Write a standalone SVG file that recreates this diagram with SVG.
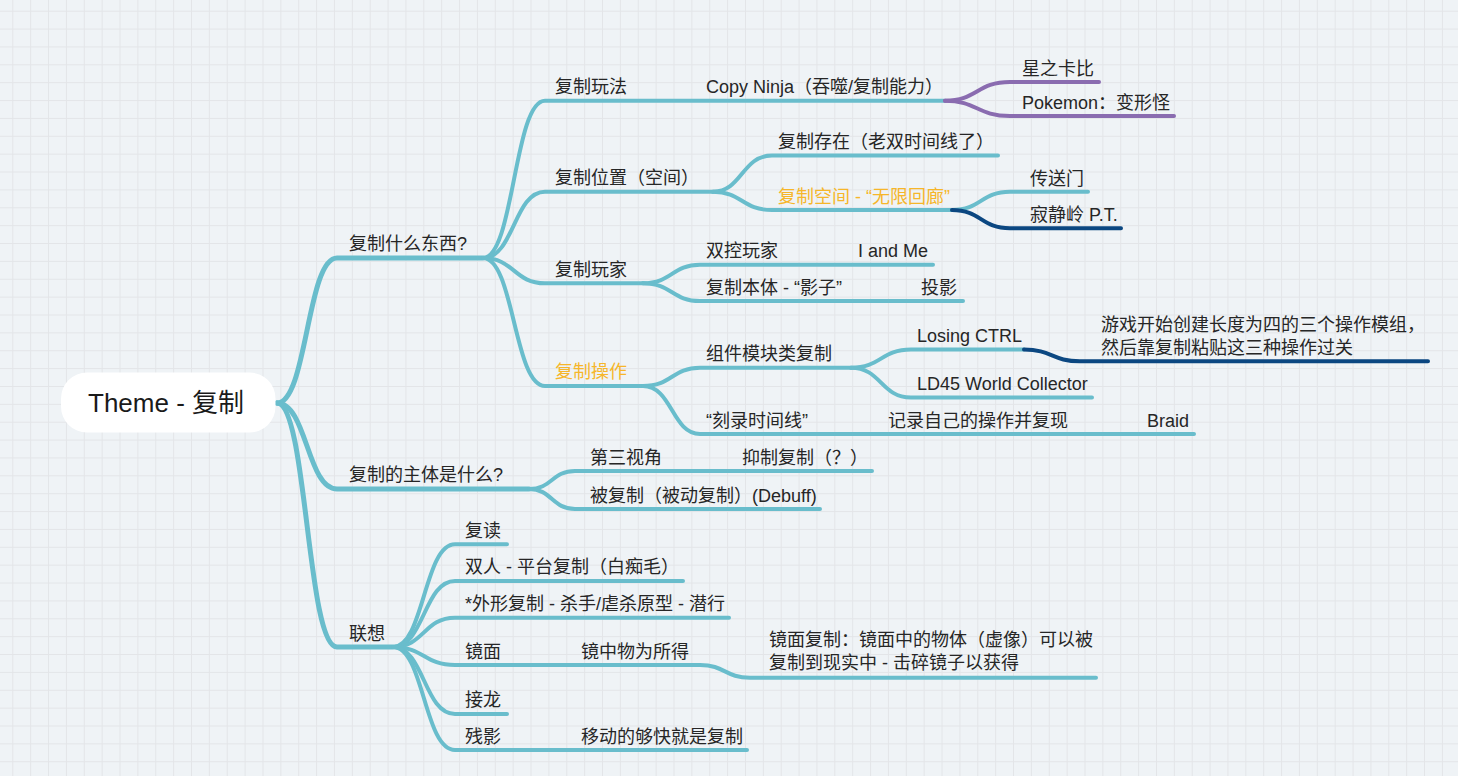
<svg xmlns="http://www.w3.org/2000/svg" width="1458" height="776" viewBox="0 0 1458 776">
  <defs>
    <pattern id="grid" x="12.3" y="10.7" width="17.87" height="17.87" patternUnits="userSpaceOnUse">
      <path d="M0 0.5 H17.87 M0.5 0 V17.87" fill="none" stroke="#e3e5e8" stroke-width="1"/>
    </pattern>
    <style>
      .bg { fill: #eff3f6; }
      .br { fill: none; stroke-linecap: round; stroke-linejoin: round; }
      .t1 { stroke: #69bdcc; stroke-width: 5; }
      .t { stroke: #69bdcc; stroke-width: 4; }
      .pu { stroke: #8a6cb0; stroke-width: 4; }
      .db { stroke: #0b4781; stroke-width: 4; }
      text { font-family: "Liberation Sans", "Noto Sans CJK SC", sans-serif; font-size: 18px; fill: #262626; }
      .root { font-size: 26px; fill: #1a1a1a; }
      .hl { fill: #f6b62a; }
    </style>
  </defs>

  <rect class="bg" width="1458" height="776"/>
  <rect width="1458" height="776" fill="url(#grid)"/>

  <!-- branches -->
  <g id="connectors" class="br">
    <!-- from the central topic -->
    <path class="t1" d="M277 403 C307 403 307 258 337 258 L483 258"/>
    <path class="t1" d="M277 403 C307 403 307 489 337 489 L529 489"/>
    <path class="t1" d="M277 403 C307 403 307 647 337 647 L393 647"/>

    <!-- 复制什么东西? -->
    <path class="t" d="M483 258 C514 258 514 100.7 545 100.7 L945 100.7"/>
    <path class="t" d="M483 258 C514 258 514 191.7 545 191.7 L713 191.7"/>
    <path class="t" d="M483 258 C514 258 514 283.3 545 283.3 L643 283.3"/>
    <path class="t" d="M483 258 C514 258 514 386 545 386 L643 386"/>

    <path class="pu" d="M945 100.7 C977 100.7 977 82 1010 82 L1099 82"/>
    <path class="pu" d="M945 100.7 C977 100.7 977 116 1010 116 L1174 116"/>

    <path class="t" d="M713 191.7 C742 191.7 742 155.5 772 155.5 L998 155.5"/>
    <path class="t" d="M713 191.7 C742 191.7 742 210 772 210 L952 210"/>
    <path class="t" d="M952 210 C981 210 981 191.7 1010 191.7 L1088 191.7"/>
    <path class="db" d="M952 210 C981 210 981 228.3 1010 228.3 L1121 228.3"/>

    <path class="t" d="M643 283.3 C672 283.3 672 264.7 700 264.7 L933 264.7"/>
    <path class="t" d="M643 283.3 C672 283.3 672 301 700 301 L963 301"/>

    <path class="t" d="M643 386 C672 386 672 367.7 700 367.7 L851 367.7"/>
    <path class="t" d="M643 386 C672 386 672 434 700 434 L1194 434"/>
    <path class="t" d="M851 367.7 C881 367.7 881 349.5 911 349.5 L1024 349.5"/>
    <path class="t" d="M851 367.7 C881 367.7 881 397.5 911 397.5 L1092 397.5"/>
    <path class="db" d="M1024 349.5 C1052 349.5 1052 361.3 1080 361.3 L1428 361.3"/>

    <!-- 复制的主体是什么? -->
    <path class="t" d="M529 489 C552 489 552 471 575 471 L872 471"/>
    <path class="t" d="M529 489 C552 489 552 509 575 509 L820 509"/>

    <!-- 联想 -->
    <path class="t" d="M393 647 C424 647 424 544.3 455 544.3 L507 544.3"/>
    <path class="t" d="M393 647 C424 647 424 581 455 581 L683 581"/>
    <path class="t" d="M393 647 C424 647 424 617.7 455 617.7 L729 617.7"/>
    <path class="t" d="M393 647 C424 647 424 665 455 665 L700 665 C725 665 725 677.7 750 677.7 L1096 677.7"/>
    <path class="t" d="M393 647 C424 647 424 714 455 714 L507 714"/>
    <path class="t" d="M393 647 C424 647 424 750 455 750 L747 750"/>
  </g>

  <!-- central topic -->
  <g id="root">
    <rect x="61" y="372.5" width="214.5" height="60" rx="26" fill="#ffffff"/>
    <text class="root" x="88" y="412">Theme - 复制</text>
  </g>

  <!-- topics -->
  <g id="n-what"><text x="349" y="250">复制什么东西?</text></g>
  <g id="n-play"><text x="555" y="93">复制玩法</text></g>
  <g id="n-copyninja"><text x="706" y="93">Copy Ninja（吞噬/复制能力）</text></g>
  <g id="n-kirby"><text x="1022" y="75">星之卡比</text></g>
  <g id="n-pokemon"><text x="1022" y="109">Pokemon：变形怪</text></g>

  <g id="n-pos"><text x="555" y="184">复制位置（空间）</text></g>
  <g id="n-exist"><text x="778" y="148">复制存在（老双时间线了）</text></g>
  <g id="n-space"><text class="hl" x="778" y="203">复制空间 - “无限回廊”</text></g>
  <g id="n-portal"><text x="1030" y="185">传送门</text></g>
  <g id="n-pt"><text x="1030" y="221">寂静岭 P.T.</text></g>

  <g id="n-player"><text x="555" y="276">复制玩家</text></g>
  <g id="n-dual"><text x="706" y="257">双控玩家</text></g>
  <g id="n-iandme"><text x="858" y="257">I and Me</text></g>
  <g id="n-shadow"><text x="706" y="294">复制本体 - “影子”</text></g>
  <g id="n-proj"><text x="921" y="294">投影</text></g>

  <g id="n-op"><text class="hl" x="555" y="378">复制操作</text></g>
  <g id="n-module"><text x="706" y="360">组件模块类复制</text></g>
  <g id="n-losing"><text x="917" y="342">Losing CTRL</text></g>
  <g id="n-losing-note">
    <text x="1101" y="331">游戏开始创建长度为四的三个操作模组，</text>
    <text x="1101" y="354">然后靠复制粘贴这三种操作过关</text>
  </g>
  <g id="n-ld45"><text x="917" y="390">LD45 World Collector</text></g>
  <g id="n-timeline"><text x="706" y="427">“刻录时间线”</text></g>
  <g id="n-record"><text x="888" y="427">记录自己的操作并复现</text></g>
  <g id="n-braid"><text x="1147" y="427">Braid</text></g>

  <g id="n-subject"><text x="349" y="481">复制的主体是什么?</text></g>
  <g id="n-third"><text x="590" y="464">第三视角</text></g>
  <g id="n-suppress"><text x="742" y="464">抑制复制（？）</text></g>
  <g id="n-debuff"><text x="590" y="502">被复制（被动复制）(Debuff)</text></g>

  <g id="n-assoc"><text x="349" y="640">联想</text></g>
  <g id="n-reread"><text x="465" y="537">复读</text></g>
  <g id="n-duo"><text x="465" y="573">双人 - 平台复制（白痴毛）</text></g>
  <g id="n-shape"><text x="465" y="610">*外形复制 - 杀手/虐杀原型 - 潜行</text></g>
  <g id="n-mirror"><text x="465" y="658">镜面</text></g>
  <g id="n-mirror-get"><text x="581" y="658">镜中物为所得</text></g>
  <g id="n-mirror-note">
    <text x="769" y="646">镜面复制：镜面中的物体（虚像）可以被</text>
    <text x="769" y="669">复制到现实中 - 击碎镜子以获得</text>
  </g>
  <g id="n-chain"><text x="465" y="706">接龙</text></g>
  <g id="n-after"><text x="465" y="743">残影</text></g>
  <g id="n-fast"><text x="581" y="743">移动的够快就是复制</text></g>
</svg>
